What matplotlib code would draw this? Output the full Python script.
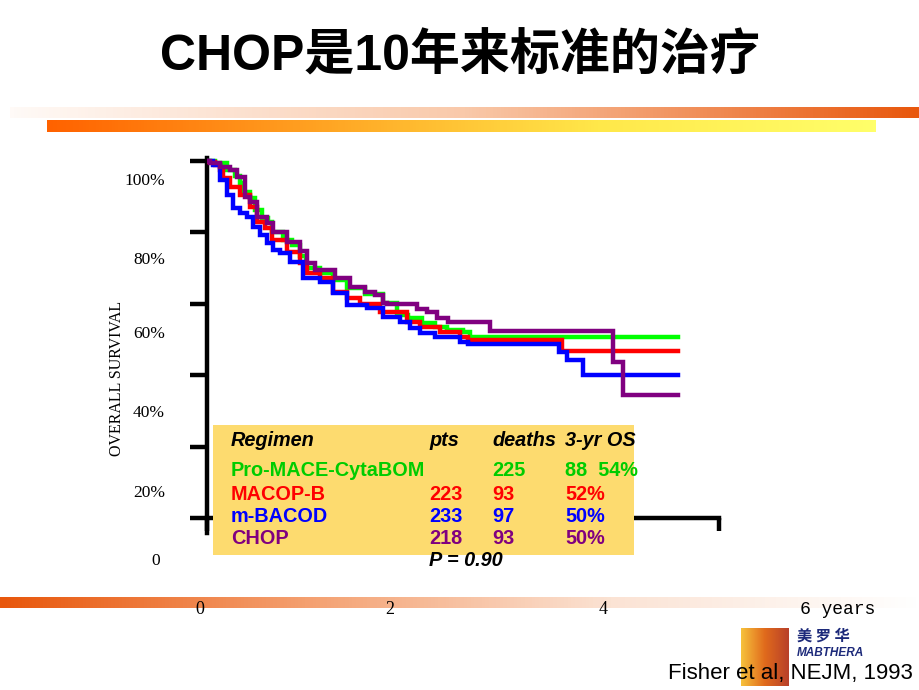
import numpy as np
import matplotlib
matplotlib.use('Agg')
import matplotlib.pyplot as plt
import matplotlib.patches as mpatches
from matplotlib.colors import LinearSegmentedColormap

# survival curves (years, % alive)
green_t = [0, 0.09, 0.23, 0.33, 0.39, 0.42, 0.50, 0.56, 0.64, 0.72, 0.76, 0.89, 1.00, 1.09, 1.16,
           1.32, 1.48, 1.64, 1.85, 2.06, 2.23, 2.36, 2.52, 2.67, 2.81, 3.00, 3.08, 5.52]
green_s = [100, 99.4, 97.5, 95.8, 93.8, 91.3, 89.6, 86.3, 84.0, 82.9, 80.1, 77.9, 76.5, 73.4, 70.0,
           68.6, 66.7, 64.4, 62.7, 60.2, 56.9, 56.0, 54.6, 53.5, 52.7, 52.1, 50.7, 50.7]

red_t = [0, 0.01, 0.09, 0.15, 0.19, 0.27, 0.39, 0.50, 0.59, 0.68, 0.76, 0.94, 1.09, 1.17, 1.32,
         1.48, 1.64, 1.79, 2.03, 2.34, 2.50, 2.73, 2.97, 3.06, 4.16, 5.52]
red_s = [100, 99.7, 98.9, 97.5, 95.2, 92.7, 90.5, 87.1, 82.9, 81.2, 77.9, 74.5, 71.4, 68.6, 67.2,
         63.3, 61.6, 59.9, 57.7, 54.9, 53.5, 52.1, 50.7, 49.9, 46.8, 46.8]

blue_t = [0, 0.07, 0.15, 0.23, 0.31, 0.39, 0.47, 0.54, 0.62, 0.70, 0.77, 0.86, 0.97, 1.13, 1.33,
          1.48, 1.64, 1.88, 2.06, 2.26, 2.38, 2.50, 2.67, 2.97, 3.06, 4.12, 4.22, 4.41, 5.52]
blue_s = [100, 98.9, 94.7, 90.5, 86.8, 85.3, 84.4, 81.6, 79.3, 76.9, 75.1, 74.1, 71.8, 67.2, 66.1,
          63.0, 59.7, 58.8, 56.3, 54.9, 53.2, 51.8, 50.7, 49.3, 48.7, 46.5, 44.3, 40.1, 40.1]

purple_t = [0, 0.04, 0.15, 0.27, 0.35, 0.45, 0.50, 0.59, 0.70, 0.77, 0.94, 1.09, 1.17, 1.27, 1.50,
            1.68, 1.85, 1.97, 2.06, 2.11, 2.46, 2.58, 2.70, 2.83, 3.32, 4.76, 4.88, 5.52]
purple_s = [100, 99.4, 98.3, 97.5, 95.5, 89.9, 88.5, 84.3, 82.6, 80.1, 77.3, 74.8, 71.4, 69.5, 67.2,
            64.7, 63.3, 62.5, 60.2, 59.9, 58.5, 57.7, 56.0, 54.9, 52.4, 43.7, 34.5, 34.5]

regimens = ['Pro-MACE-CytaBOM', 'MACOP-B', 'm-BACOD', 'CHOP']
pts = ['', '223', '233', '218']
deaths = ['225', '93', '97', '93']
os3 = ['88  54%', '52%', '50%', '50%']
line_colors = ['#00ff00', '#ff0000', '#0000ff', '#800080']
text_colors = ['#00cc00', '#ff0000', '#0000ff', '#800080']

y_ticks = [0, 20, 40, 60, 80, 100]
y_labels = ['100%', '80%', '60%', '40%', '20%', '0']
x_labels = ['0', '2', '4', '6 years']

W, H = 920, 690


def fx(px):
    return px / W


def fy(py):
    return 1 - py / H


def gradient_bar(fig, x0, y0, x1, y1, colors):
    bar = fig.add_axes([fx(x0), fy(y1), fx(x1 - x0), (y1 - y0) / H])
    cmap = LinearSegmentedColormap.from_list('bar', colors)
    bar.imshow(np.linspace(0, 1, 256)[None, :], aspect='auto', cmap=cmap)
    bar.axis('off')
    return bar


fig = plt.figure(figsize=(9.2, 6.9), dpi=100)

# decorative slide bars
gradient_bar(fig, 10, 107, 920, 118, ['#fffaf7', '#f9c9aa', '#e8570c'])
gradient_bar(fig, 47, 120, 876, 132, ['#ff6200', '#ffa423', '#ffe84a', '#ffff6a'])
gradient_bar(fig, 0, 597, 920, 608, ['#e8570c', '#f4a070', '#fbe3d4', '#ffffff'])

fig.text(0.5, fy(57), 'CHOP是10年来标准的治疗', ha='center', va='center', fontsize=36,
         fontweight='bold', family=['Liberation Sans', 'Noto Sans CJK SC'])

# survival plot: y from -4.2 (px 533) to 100.8 (px 158), x 0..6 over px 207..719
ax = fig.add_axes([fx(207), fy(533), fx(719 - 207), (533 - 158) / H])
ax.set_xlim(0, 6)
ax.set_ylim(-4.2, 100.8)
for t, s, c in zip([green_t, red_t, blue_t, purple_t], [green_s, red_s, blue_s, purple_s], line_colors):
    ax.step(t, s, where='post', color=c, linewidth=3.2, solid_joinstyle='miter', zorder=3)

ax.spines['top'].set_visible(False)
ax.spines['right'].set_visible(False)
ax.spines['left'].set_linewidth(3.2)
ax.spines['bottom'].set_linewidth(3.2)
ax.spines['bottom'].set_position(('data', 0))
ax.spines['bottom'].set_bounds(0, 6)
ax.set_yticks(y_ticks)
ax.set_xticks([0, 2, 4, 6])
ax.tick_params(axis='y', direction='out', length=12, width=3.2, labelleft=False)
ax.tick_params(axis='x', direction='out', length=9.5, width=3.2, labelbottom=False)
ax.patch.set_visible(False)

for lab, py in zip(y_labels, [181, 260, 334, 413, 493, 561]):
    fig.text(fx(165) if lab != '0' else fx(160), fy(py), lab, ha='right', va='center',
             fontsize=12.5, family='Liberation Serif')
fig.text(fx(117), fy(378), 'OVERALL SURVIVAL', rotation=90, ha='center', va='center',
         fontsize=11.5, family='Liberation Serif')

for lab, px in zip(x_labels, [200, 390, 603, 800]):
    fig.text(fx(px), fy(609), lab, ha='center' if lab != '6 years' else 'left', va='center',
             fontsize=13, family='Liberation Mono' if lab == '6 years' else 'Liberation Serif')

# table box
box = mpatches.Rectangle((fx(213), fy(555)), fx(634 - 213), (555 - 425) / H,
                         transform=fig.transFigure, facecolor='#fddb6f', edgecolor='none', zorder=5)
fig.patches.append(box)

cols = [231, 429, 492, 565]
tkw = dict(fontsize=14.3, fontweight='bold', family='Liberation Sans', va='center', zorder=6)
for lab, px in zip(['Regimen', 'pts', 'deaths', '3-yr OS'], cols):
    fig.text(fx(px), fy(440), lab, style='italic', color='black', **tkw)
for i, py in enumerate([471, 494, 516, 538]):
    for val, px in zip([regimens[i], pts[i], deaths[i], os3[i]], cols):
        fig.text(fx(px), fy(py), val, color=text_colors[i], **tkw)
fig.text(fx(429), fy(560), 'P = 0.90', style='italic', color='black', **tkw)

# logo and citation
logo = gradient_bar(fig, 741, 628, 789, 686, ['#f7c23c', '#e06a1c', '#b8402a'])
fig.text(fx(797), fy(636), '美 罗 华', fontsize=11, fontweight='bold', style='italic',
         color='#1d2a7a', family=['Noto Sans CJK SC'], va='center')
fig.text(fx(797), fy(653), 'MABTHERA', fontsize=8.5, fontweight='bold', style='italic',
         color='#1d2a7a', family='Liberation Sans', va='center')
fig.text(fx(913), fy(674), 'Fisher et al, NEJM, 1993', ha='right', va='center',
         fontsize=16, family='Liberation Sans', zorder=6)

fig.savefig('out.png', dpi=100)
